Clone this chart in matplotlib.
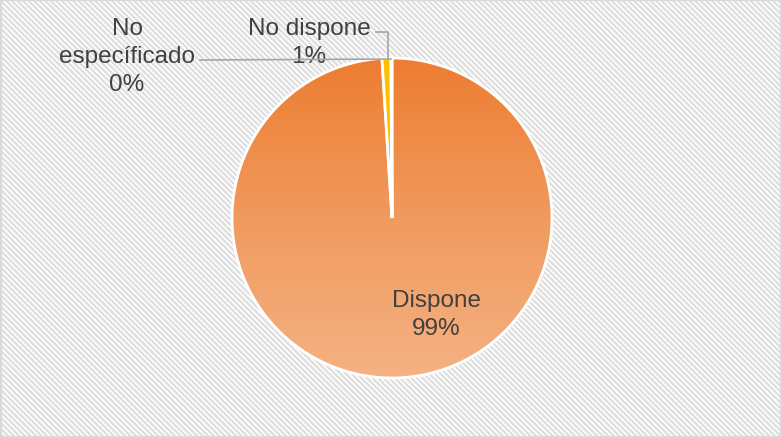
import numpy as np
import matplotlib.pyplot as plt
from matplotlib.colors import LinearSegmentedColormap

# data
labels = ['Dispone', 'No dispone', 'No específicado']
values = [99.0, 0.9, 0.1]
pct_text = ['99%', '1%', '0%']

plt.rcParams['font.family'] = ['Liberation Sans', 'DejaVu Sans']
plt.rcParams['hatch.color'] = '#dedede'
plt.rcParams['hatch.linewidth'] = 1.6

W, H = 782, 439
fig = plt.figure(figsize=(W / 100, H / 100), dpi=100)
ax = fig.add_axes([0, 0, 1, 1])

# hatched background with border
bg = plt.Rectangle((1, 1), W - 2, H - 2, facecolor='white', edgecolor='#dedede',
                   hatch='\\' * 6, linewidth=0, zorder=0)
ax.add_patch(bg)
border = plt.Rectangle((1, 1), W - 2, H - 2, facecolor='none', edgecolor='#d9d9d9',
                       linewidth=1.5, zorder=6)
ax.add_patch(border)

cx, cy, r = 392, 220, 160
wedges, _ = ax.pie(values, center=(cx, cy), radius=r, startangle=90, counterclock=False,
                   colors=['none', '#FFC000', '#A5A5A5'],
                   wedgeprops=dict(edgecolor='white', linewidth=2), frame=True)
ax.set_xlim(0, W)
ax.set_ylim(0, H)
ax.set_aspect('equal')
ax.axis('off')

# gradient fill for the big slice
cmap = LinearSegmentedColormap.from_list('og', ['#F5B283', '#F09A5E', '#ED7D31'])
grad = np.linspace(0, 1, 256).reshape(-1, 1)
im = ax.imshow(grad, cmap=cmap, origin='lower', aspect='auto',
               extent=(cx - r, cx + r, cy - r, cy + r), zorder=1)
im.set_clip_path(wedges[0])
for w in wedges:
    w.set_zorder(2)
wedges[0].set_facecolor('none')

txt = dict(fontsize=17.5, color='#404040', ha='center', va='center', linespacing=1.36)
ax.text(436, H - 315, labels[0] + '\n' + pct_text[0], **txt)
ax.text(309, H - 43, labels[1] + '\n' + pct_text[1], **txt)
ax.text(127, H - 57, 'No\n' + labels[2].split()[1] + '\n' + pct_text[2], **txt)

# leader lines
ax.plot([376, 388, 388], [H - 33, H - 33, H - 60], color='#A6A6A6', lw=1.2, zorder=3)
ax.plot([200, 391], [H - 61, H - 60], color='#A6A6A6', lw=1.2, zorder=3)

fig.savefig('out.png', dpi=100)
